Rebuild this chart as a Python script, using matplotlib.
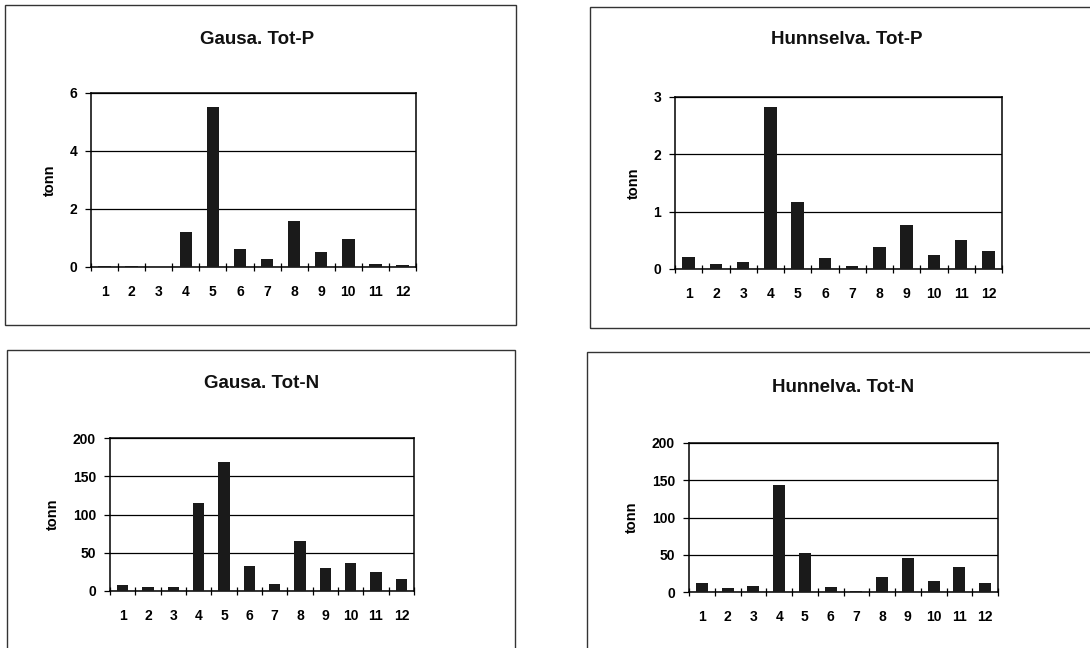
import matplotlib.pyplot as plt
from matplotlib.patches import Rectangle
import numpy as np

plt.rcParams['font.family'] = ['Liberation Sans', 'DejaVu Sans']
plt.rcParams['font.weight'] = 'bold'

months = [str(m) for m in range(1, 13)]

# Tot-P (tonn)
gausa_p = [0.03, 0.02, 0.01, 1.21, 5.5, 0.63, 0.29, 1.58, 0.52, 0.98, 0.12, 0.08]
hunn_p = [0.21, 0.08, 0.13, 2.82, 1.17, 0.19, 0.05, 0.38, 0.77, 0.25, 0.5, 0.32]
# Tot-N (tonn)
gausa_n = [8, 5, 5.5, 115, 168, 33, 9, 66, 30, 37, 25, 16]
hunn_n = [12, 6, 7.5, 144, 52, 7, 2, 20, 46, 15, 34, 12]

W, H = 1090, 648
fig = plt.figure(figsize=(W / 100, H / 100), dpi=100)

def px(l, t, r, b):
    return [l / W, 1 - b / H, (r - l) / W, (b - t) / H]

# outer frames (pixel coords: left, top, right, bottom)
frames = [(5, 5, 516, 325), (590, 7, 1095, 328), (7, 350, 515, 660), (587, 352, 1095, 660)]
for l, t, r, b in frames:
    fig.patches.append(Rectangle((l / W, 1 - b / H), (r - l) / W, (b - t) / H,
                                 transform=fig.transFigure, fill=False,
                                 edgecolor='#333333', linewidth=1.0))

panels = [
    ('Gausa. Tot-P', gausa_p, 6, [0, 2, 4, 6], (91, 93, 416, 267), (257, 39)),
    ('Hunnselva. Tot-P', hunn_p, 3, [0, 1, 2, 3], (675, 97, 1002, 269), (847, 40)),
    ('Gausa. Tot-N', gausa_n, 200, [0, 50, 100, 150, 200], (110, 438, 414, 591), (262, 383)),
    ('Hunnelva. Tot-N', hunn_n, 200, [0, 50, 100, 150, 200], (689, 443, 998, 592), (843, 388)),
]

x = np.arange(1, 13)
for title, vals, ymax, yt, box, tpos in panels:
    ax = fig.add_axes(px(*box))
    ax.bar(x, vals, width=0.46, color='#1a1a1a', zorder=3)
    ax.set_xlim(0.5, 12.5)
    ax.set_ylim(0, ymax)
    ax.set_yticks(yt)
    ax.set_yticklabels([str(v) for v in yt], fontsize=10, fontweight='bold')
    ax.yaxis.grid(True, color='black', linewidth=0.9, zorder=0)
    ax.tick_params(axis='y', direction='out', length=4, width=0.9, pad=6)
    # category boundary ticks crossing the axis
    ax.set_xticks(np.arange(0.5, 13, 1))
    ax.set_xticklabels([])
    ax.tick_params(axis='x', which='major', direction='inout', length=6, width=0.9)
    ax.set_xticks(x, minor=True)
    ax.set_xticklabels(months, minor=True, fontsize=10, fontweight='bold')
    ax.tick_params(axis='x', which='minor', length=0, pad=13)
    ax.set_ylabel('tonn', fontsize=10.5, fontweight='bold', labelpad=9)
    for s in ax.spines.values():
        s.set_linewidth(1.1)
        s.set_color('black')
    fig.text(tpos[0] / W, 1 - tpos[1] / H, title, ha='center', va='center',
             fontsize=13.5, fontweight='bold', color='#111111')

fig.savefig('out.png', dpi=100)
